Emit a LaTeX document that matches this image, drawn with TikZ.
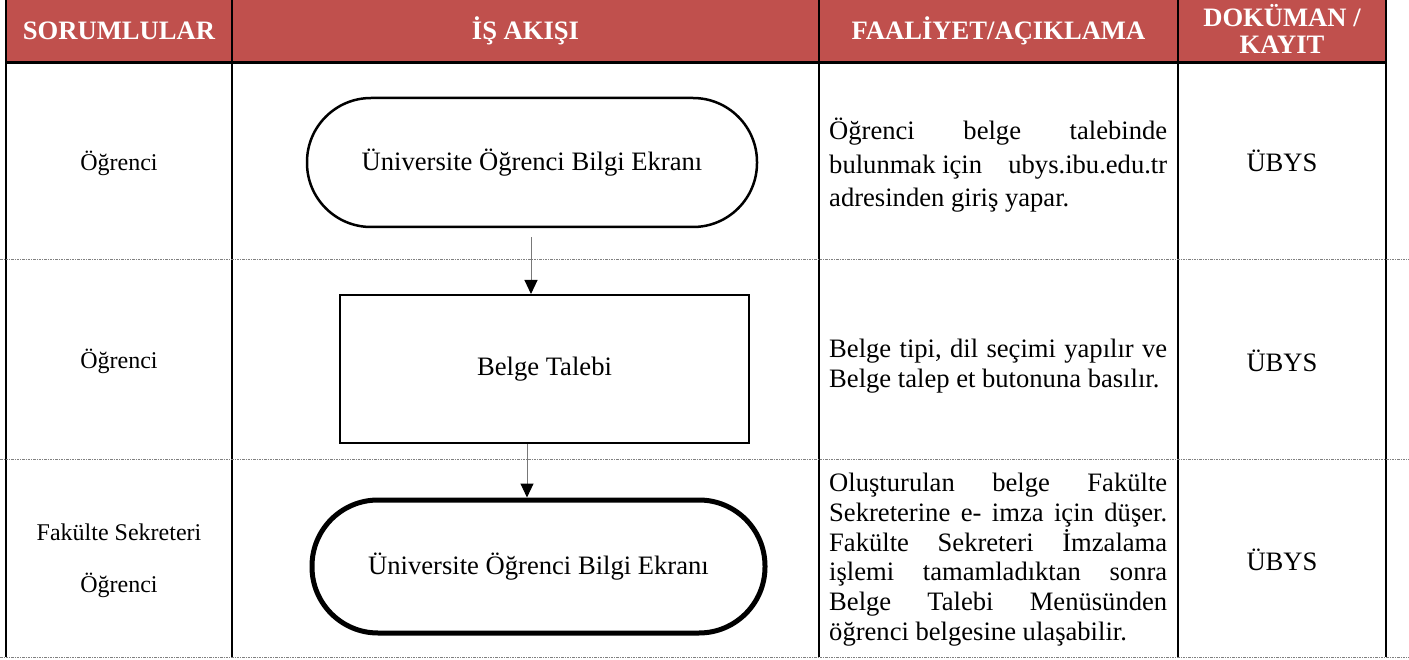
\documentclass[tikz,border=0pt]{standalone}
\usepackage{fontspec}
\setmainfont{Liberation Serif}
\usetikzlibrary{arrows.meta}

\definecolor{baslik}{HTML}{C0504D}
\definecolor{okgri}{RGB}{120,120,120}
\newcommand{\tamsatir}[1]{\makebox[338pt][s]{\spaceskip=0pt\xspaceskip=0pt #1}}

\tikzset{
  sutun/.style={line width=2pt, black},
  satir/.style={line width=1pt, gray, dash pattern=on 2.5pt off 1pt on 1pt off 1pt},
  baslikyazi/.style={text=white, font=\fontsize{26.6}{27}\selectfont\bfseries, align=center, inner sep=0pt},
  sorumlu/.style={font=\fontsize{24}{28}\selectfont, inner sep=0pt},
  kayit/.style={font=\fontsize{26.6}{30}\selectfont, inner sep=0pt},
  aciklama/.style={font=\fontsize{26.6}{30}\selectfont, text width=338pt, align=left, inner sep=0pt, anchor=west,
    execute at begin node={\spaceskip=0pt\xspaceskip=0pt\frenchspacing}},
  terminal/.style={draw, line width=2.5pt, rectangle, font=\fontsize{26.6}{30}\selectfont},
  akis/.style={draw=okgri, line width=1pt, -{Triangle[width=13pt,length=14pt,color=black]}}
}

\begin{document}
\begin{tikzpicture}[x=1pt, y=-1pt]
  \useasboundingbox (0,0) rectangle (1409,660);

  % Header band and table lines
  \fill[baslik] (6,0) rectangle (1386,62);
  \draw[sutun]
    (6,0) to (6,657)
    (232,0) to (232,657)
    (819,0) to (819,657)
    (1178,0) to (1178,657)
    (1386,0) to (1386,657);
  \draw[line width=3.5pt] (6,62.5) to (1386,62.5);
  \draw[satir]
    (0,260) to (1409,260)
    (0,459) to (1409,459)
    (0,657) to (1409,657);

  % Header texts
  \node[baslikyazi] (h1) at (119,31) {SORUMLULAR};
  \node[baslikyazi] (h2) at (525.5,31) {İŞ AKIŞI};
  \node[baslikyazi] (h3) at (998.5,31) {FAALİYET/AÇIKLAMA};
  \node[baslikyazi] (h4) at (1282,29) {DOKÜMAN /\\KAYIT};

  % Responsible persons
  \node[sorumlu] (s1) at (119,163.3) {Öğrenci};
  \node[sorumlu] (s2) at (119,361.8) {Öğrenci};
  \node[sorumlu] (s3) at (119,531.8) {Fakülte Sekreteri};
  \node[sorumlu] (s4) at (119,585) {Öğrenci};

  % Work flow
  \node[terminal, minimum width=450pt, minimum height=129pt, rounded corners=64pt] (term1) at (532,162.5) {Üniversite Öğrenci Bilgi Ekranı};
  \node[terminal, line width=2pt, minimum width=409pt, minimum height=148pt] (talep) at (544.5,369) {Belge Talebi};
  \node[terminal, line width=5pt, minimum width=453pt, minimum height=133pt, rounded corners=66pt] (term2) at (538.5,566.5) {Üniversite Öğrenci Bilgi Ekranı};

  \coordinate (ok1) at ([xshift=-1pt,yshift=-9pt]term1.south);
  \draw[akis] (ok1) -- (ok1 |- talep.north);
  \coordinate (ok2) at ([xshift=-17.5pt]talep.south);
  \draw[akis] (ok2) -- (ok2 |- term2.north);

  % Activity / explanation
  \node[aciklama, font=\fontsize{26.6}{33.5}\selectfont] (a1) at (829,165.3)
    {\tamsatir{Öğrenci belge talebinde}\\
     \makebox[338pt]{bulunmak için\hfill ubys.ibu.edu.tr}\\
     adresinden giriş yapar.};
  \node[aciklama] (a2) at (829,366)
    {\tamsatir{Belge tipi, dil seçimi yapılır ve}\\
     Belge talep et butonuna basılır.};
  \node[aciklama, font=\fontsize{26.6}{29.7}\selectfont] (a3) at (829,559.7)
    {\tamsatir{Oluşturulan belge Fakülte}\\
     \tamsatir{Sekreterine e- imza için düşer.}\\
     \tamsatir{Fakülte Sekreteri İmzalama}\\
     \tamsatir{işlemi tamamladıktan sonra}\\
     \tamsatir{Belge Talebi Menüsünden}\\
     öğrenci belgesine ulaşabilir.};

  % Document / record
  \node[kayit] (k1) at (1282,161.3) {ÜBYS};
  \node[kayit] (k2) at (1282,361) {ÜBYS};
  \node[kayit] (k3) at (1282,560) {ÜBYS};
\end{tikzpicture}
\end{document}
